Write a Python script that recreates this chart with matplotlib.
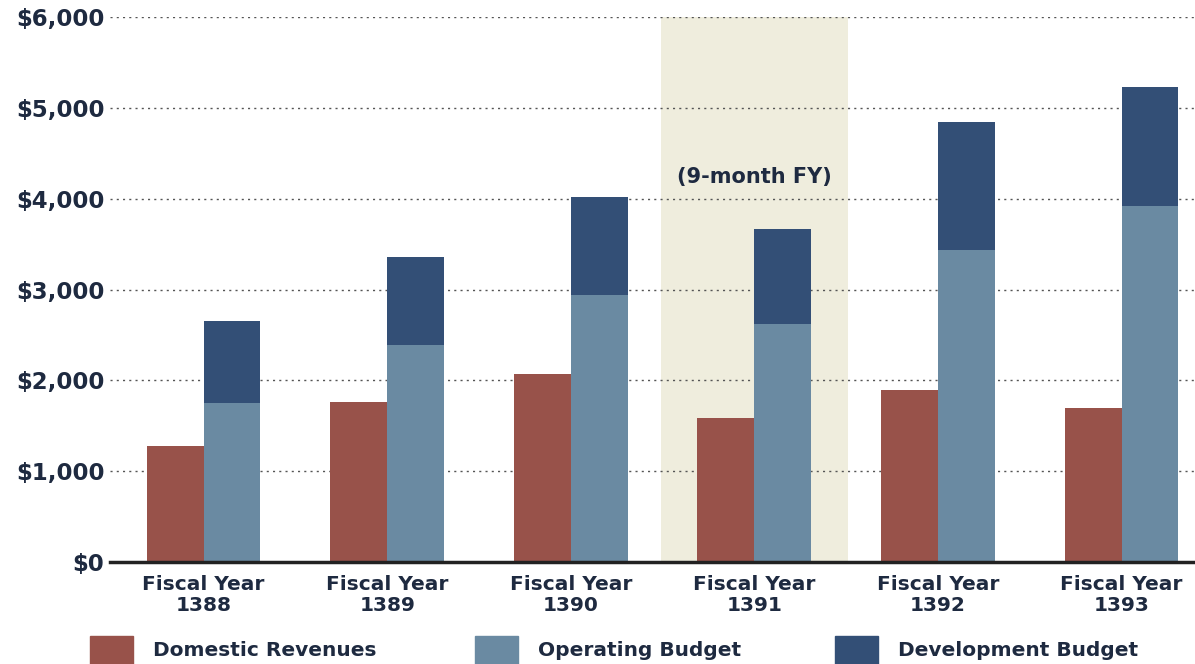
import numpy as np
import matplotlib
matplotlib.use("Agg")
import matplotlib.pyplot as plt
from matplotlib.patches import Rectangle

# values in $ millions
years       = ["1388", "1389", "1390", "1391", "1392", "1393"]
domestic    = [1280, 1760, 2070, 1585, 1895, 1695]
operating   = [1750, 2390, 2940, 2620, 3435, 3920]
development = [905, 970, 1080, 1050, 1410, 1310]
series      = ["Domestic Revenues", "Operating Budget", "Development Budget"]
yticks      = [0, 1000, 2000, 3000, 4000, 5000, 6000]
highlight_idx = 3
highlight_note = "(9-month FY)"

C_DOM = "#98524a"
C_OPS = "#6a8aa2"
C_DEV = "#334f76"
C_HL  = "#efeddd"
C_TXT = "#1e2a40"

plt.rcParams["font.family"] = ["DejaVu Sans"]

fig = plt.figure(figsize=(11.95, 6.64), dpi=100)
ax = fig.add_axes([0.092, 0.1536, 0.908, 0.8208])

x = np.arange(len(years))
w = 0.31

ax.axvspan(highlight_idx - 0.51, highlight_idx + 0.51, color=C_HL, zorder=0, lw=0)
ax.bar(x - w / 2, domestic, w, color=C_DOM, zorder=2)
ax.bar(x + w / 2, operating, w, color=C_OPS, zorder=2)
ax.bar(x + w / 2, development, w, bottom=operating, color=C_DEV, zorder=2)

ax.text(highlight_idx, 4240, highlight_note, ha="center", va="center",
        fontsize=15, fontweight="bold", color=C_TXT)

ax.set_xlim(-0.51, 5.40)
ax.set_ylim(0, 6000)
ax.set_yticks(yticks)
ax.set_yticklabels([f"${v:,}" for v in yticks], fontsize=16.5,
                   fontweight="bold", color=C_TXT)
ax.set_xticks(x)
ax.set_xticklabels([f"Fiscal Year\n{y}" for y in years], fontsize=14.5,
                   fontweight="bold", color=C_TXT, linespacing=1.15)
ax.tick_params(axis="both", length=0)
ax.tick_params(axis="y", pad=4)
ax.tick_params(axis="x", pad=9)

for v in yticks[1:]:
    ax.axhline(v, color="#555555", lw=1.0, ls=(0, (1.5, 3)), zorder=1)

for s in ["left", "right", "top"]:
    ax.spines[s].set_visible(False)
ax.spines["bottom"].set_linewidth(2.5)
ax.spines["bottom"].set_color("#222222")
ax.spines["bottom"].set_zorder(3)

# legend along the bottom edge
leg_colors = [C_DOM, C_OPS, C_DEV]
leg_x = [90, 475, 835]
H = 664.0
W = 1195.0
for name, col, px in zip(series, leg_colors, leg_x):
    fig.patches.append(Rectangle((px / W, 1 - 668 / H), 43 / W, 32 / H,
                                 transform=fig.transFigure, color=col))
    fig.text((px + 63) / W, 1 - 651 / H, name, ha="left", va="center",
             fontsize=14.5, fontweight="bold", color=C_TXT)

fig.savefig("out.png", dpi=100)
